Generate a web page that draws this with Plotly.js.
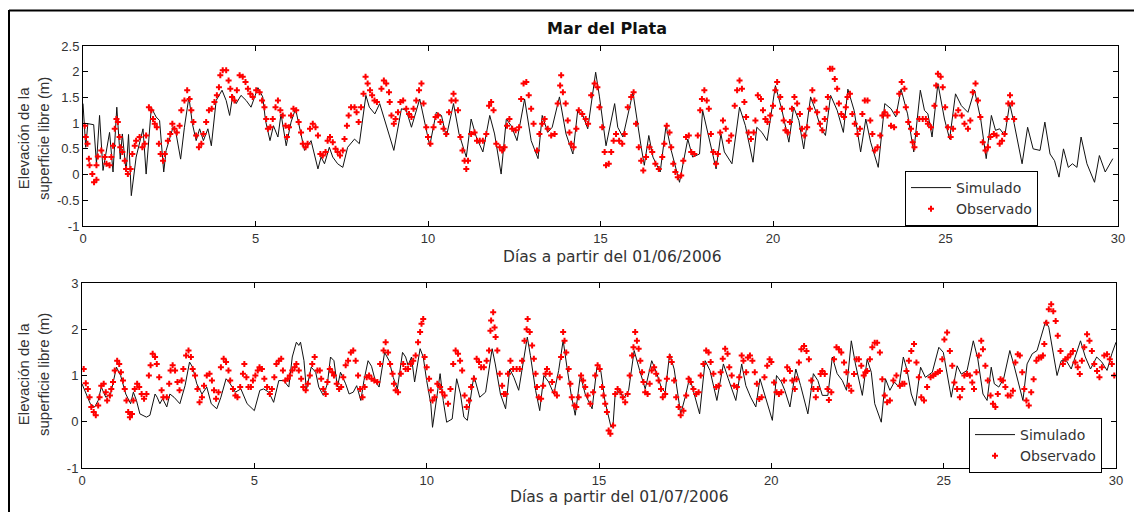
<!DOCTYPE html>
<html>
<head>
<meta charset="utf-8">
<script src="https://cdn.plot.ly/plotly-3.0.1.min.js"></script>
<style>html,body{margin:0;padding:0;background:#fff;}#chart{width:1134px;height:512px;}</style>
</head>
<body>
<div id="chart"></div>
<script>
// ---------- Panel 1: June 2006 ----------
const simDays1 = [0,0.08,0.14,0.31,0.39,0.48,0.58,0.77,0.87,0.98,1.08,1.14,1.25,1.32,1.40,1.54,1.74,1.83,1.98,2.12,2.22,2.34,2.41,2.61,2.70,2.83,2.94,3.07,3.17,3.28,3.38,3.49,3.62,3.72,3.86,4.03,4.15,4.25,4.34,4.44,4.58,4.73,4.87,5.07,5.21,5.29,5.42,5.52,5.65,5.74,5.89,6.03,6.16,6.27,6.42,6.61,6.81,6.90,7.00,7.14,7.24,7.38,7.53,7.67,7.87,8.01,8.20,8.30,8.46,8.60,8.75,9.01,9.23,9.37,9.52,9.76,10.05,10.24,10.39,10.53,10.74,10.90,11.11,11.25,11.40,11.59,11.79,11.93,12.12,12.27,12.41,12.58,12.80,12.99,13.19,13.31,13.47,13.60,13.81,14.00,14.20,14.34,14.49,14.63,14.86,14.97,15.16,15.41,15.50,15.65,15.94,16.03,16.18,16.27,16.40,16.52,16.73,16.90,17.05,17.29,17.53,17.67,17.87,17.96,18.11,18.35,18.49,18.59,18.81,19.03,19.20,19.42,19.53,19.68,19.83,20.07,20.26,20.46,20.60,20.75,20.89,21.09,21.23,21.38,21.52,21.67,21.86,22.04,22.17,22.35,22.54,22.69,22.83,23.05,23.24,23.42,23.56,23.71,23.90,24.08,24.27,24.39,24.49,24.61,24.78,24.97,25.12,25.29,25.46,25.65,25.84,26.02,26.18,26.33,26.45,26.57,26.72,26.86,26.99,27.22,27.38,27.54,27.74,27.88,28.03,28.16,28.29,28.42,28.56,28.68,28.81,28.93,29.10,29.32,29.46,29.63,29.85];
const simVals1 = [1.38,0.53,0.99,0.97,0.21,1.15,0.08,0.82,0.05,1.31,0.30,0.79,0.05,0.78,-0.41,0.34,0.89,0.01,1.30,1.12,1.05,0.05,0.47,0.92,0.79,0.30,0.92,1.51,0.99,0.66,0.89,0.66,0.89,0.56,1.44,1.64,1.44,1.15,1.54,1.38,1.54,1.44,1.31,1.69,1.51,1.05,0.66,0.95,0.73,1.18,0.56,1.02,1.28,0.92,0.47,0.66,0.11,0.34,0.21,0.53,0.34,0.21,0.14,0.53,0.69,0.60,1.54,1.31,1.18,1.38,1.05,0.47,1.28,1.25,0.92,1.47,0.56,1.21,1.15,0.73,1.38,0.79,0.34,1.08,0.73,0.44,1.15,0.79,0.01,1.08,0.95,0.66,1.47,0.66,0.31,1.15,0.82,0.92,1.51,0.79,0.40,1.25,1.15,0.89,1.99,1.51,0.56,1.38,0.92,0.73,1.60,1.18,0.53,0.18,0.76,0.34,0.05,0.95,0.47,-0.15,0.69,0.34,0.40,1.25,0.79,0.11,0.79,0.44,0.21,1.31,0.95,0.24,0.92,0.82,0.66,1.73,1.25,0.63,1.31,1.05,0.50,1.51,1.25,0.92,0.76,1.54,1.25,0.82,1.66,1.25,0.44,1.08,0.63,0.14,1.38,1.28,1.12,1.66,1.18,0.44,1.64,1.25,1.18,0.73,1.77,1.08,0.69,1.57,1.34,1.21,1.64,1.08,0.31,1.15,0.86,0.89,0.76,1.38,0.99,0.21,0.92,0.50,0.47,1.02,0.40,0.27,-0.05,0.50,0.14,0.21,0.14,0.73,0.21,-0.15,0.37,0.05,0.31];

const obsDays1 = [0.05,0.08,0.13,0.17,0.19,0.27,0.32,0.39,0.39,0.43,0.53,0.63,0.68,0.77,0.82,0.87,0.92,0.97,1.01,1.06,1.08,1.14,1.21,1.25,1.30,1.38,1.43,1.50,1.54,1.64,1.72,1.79,1.83,1.91,1.98,2.03,2.08,2.14,2.20,2.25,2.32,2.37,2.46,2.53,2.59,2.65,2.72,2.80,2.85,2.94,3.02,3.09,3.14,3.20,3.28,3.36,3.43,3.49,3.57,3.65,3.73,3.81,3.88,3.94,3.98,4.05,4.15,4.22,4.27,4.32,4.39,4.46,4.54,4.63,4.71,4.78,4.85,4.92,5.02,5.12,5.19,5.26,5.31,5.36,5.43,5.50,5.58,5.65,5.72,5.79,5.87,5.91,5.97,6.03,6.10,6.18,6.25,6.32,6.37,6.45,6.51,6.58,6.66,6.74,6.81,6.88,6.95,7.03,7.09,7.16,7.24,7.32,7.38,7.45,7.53,7.58,7.65,7.70,7.77,7.87,7.93,7.99,8.06,8.13,8.19,8.25,8.32,8.38,8.45,8.52,8.65,8.72,8.79,8.87,8.89,8.94,9.01,9.06,9.13,9.20,9.28,9.37,9.45,9.52,9.58,9.66,9.74,9.81,9.87,9.95,10.00,10.07,10.16,10.22,10.29,10.36,10.45,10.53,10.61,10.68,10.74,10.80,10.87,10.94,11.00,11.06,11.11,11.16,11.25,11.35,11.42,11.50,11.59,11.69,11.77,11.83,11.90,11.98,12.08,12.15,12.22,12.29,12.36,12.44,12.54,12.64,12.70,12.77,12.85,12.92,12.99,13.06,13.16,13.23,13.31,13.38,13.47,13.57,13.67,13.76,13.83,13.86,13.91,13.99,14.05,14.10,14.15,14.22,14.30,14.37,14.47,14.57,14.64,14.73,14.83,14.91,14.97,15.05,15.12,15.16,15.24,15.31,15.38,15.45,15.54,15.63,15.70,15.79,15.89,15.96,16.03,16.11,16.18,16.24,16.32,16.42,16.50,16.59,16.69,16.79,16.85,16.92,17.00,17.05,17.11,17.17,17.24,17.34,17.40,17.48,17.56,17.63,17.72,17.82,17.89,17.94,18.01,18.08,18.14,18.20,18.27,18.35,18.40,18.47,18.55,18.63,18.72,18.79,18.89,18.96,19.03,19.10,19.17,19.22,19.29,19.36,19.44,19.49,19.56,19.65,19.71,19.78,19.84,19.92,20.00,20.07,20.12,20.21,20.26,20.31,20.36,20.43,20.49,20.55,20.62,20.70,20.78,20.84,20.91,20.99,21.07,21.14,21.20,21.28,21.36,21.43,21.50,21.55,21.59,21.65,21.72,21.79,21.86,21.91,21.98,22.06,22.11,22.16,22.23,22.30,22.37,22.45,22.52,22.59,22.66,22.74,22.82,22.88,22.95,23.03,23.11,23.17,23.24,23.32,23.42,23.51,23.59,23.66,23.73,23.81,23.85,23.92,24.00,24.05,24.10,24.17,24.24,24.34,24.43,24.49,24.58,24.68,24.73,24.78,24.86,24.92,24.99,25.07,25.15,25.22,25.29,25.37,25.47,25.55,25.65,25.72,25.79,25.87,25.94,26.01,26.08,26.16,26.23,26.30,26.40,26.48,26.57,26.64,26.71,26.77,26.82,26.87,26.93,26.99];
const obsVals1 = [0.95,0.73,0.60,0.31,0.18,0.01,-0.15,-0.10,0.18,0.35,0.47,0.34,0.21,0.18,0.34,0.56,0.89,1.08,1.02,0.73,0.53,0.44,0.27,0.11,0.01,0.11,0.40,0.56,0.66,0.73,0.53,0.60,0.76,1.31,1.25,1.08,0.99,0.92,0.60,0.40,0.27,0.40,0.66,0.79,0.99,0.89,0.82,0.95,1.25,1.44,1.64,1.47,1.25,1.02,0.76,0.53,0.60,0.79,1.02,1.25,1.28,1.41,1.54,1.70,1.93,2.03,2.03,1.83,1.67,1.51,1.44,1.64,1.93,1.90,1.80,1.67,1.57,1.51,1.64,1.60,1.44,1.31,1.08,0.89,0.92,1.08,1.31,1.44,1.25,1.15,0.95,0.73,0.92,1.15,1.28,1.25,1.02,0.82,0.60,0.53,0.60,0.89,0.99,0.92,0.76,0.40,0.37,0.44,0.66,0.73,0.63,0.50,0.44,0.37,0.47,0.69,0.95,1.15,1.31,1.31,1.21,1.02,1.31,1.57,1.90,1.77,1.64,1.54,1.44,1.41,1.67,1.83,1.77,1.60,1.41,1.15,0.99,1.08,1.21,1.41,1.44,1.28,1.18,1.12,1.28,1.44,1.64,1.77,1.38,0.92,0.73,0.60,0.92,1.12,1.15,1.02,0.89,0.79,1.21,1.44,1.57,1.44,1.25,0.73,0.47,0.27,0.11,0.27,0.79,0.82,0.66,0.66,0.66,0.79,1.34,1.41,1.25,0.60,0.53,0.47,0.53,0.95,1.08,0.89,0.86,0.92,1.47,1.77,1.80,1.54,1.28,0.99,0.47,0.79,0.99,1.08,0.89,0.76,0.79,1.38,1.73,1.93,1.60,1.38,1.05,0.82,0.60,0.53,0.89,1.25,1.18,1.08,0.99,1.54,1.77,1.70,1.31,0.92,0.44,0.18,0.21,0.44,0.66,0.79,0.66,0.60,0.79,1.31,1.51,1.60,0.99,0.53,0.27,0.08,0.34,0.53,0.44,0.21,0.11,0.34,0.60,0.95,0.82,0.53,0.21,0.05,-0.05,-0.02,0.27,0.73,0.76,0.44,0.40,0.76,1.25,1.47,1.64,1.44,1.28,0.79,0.44,0.21,0.40,0.82,1.05,0.89,0.66,0.76,1.34,1.64,1.83,1.67,1.41,1.12,0.82,0.69,0.82,1.05,1.54,1.47,1.25,1.08,1.02,1.15,1.34,1.64,1.80,1.51,1.28,1.05,0.86,0.82,1.02,1.28,1.51,1.38,1.18,0.89,0.76,0.92,1.28,1.64,1.44,1.21,0.99,0.86,1.08,1.28,1.51,2.06,2.06,1.86,1.67,1.38,1.18,1.12,1.31,1.51,1.57,1.18,0.99,0.79,0.89,1.18,1.44,1.44,1.05,0.79,0.47,0.53,0.76,1.15,1.21,1.15,0.95,0.92,1.21,1.57,1.80,1.67,1.31,1.02,0.89,0.63,0.53,0.79,1.08,1.08,1.08,0.99,0.92,1.34,1.73,1.96,1.90,1.70,1.31,0.92,0.73,0.89,1.15,1.25,1.15,0.99,0.89,1.05,1.60,1.77,1.44,1.12,0.63,0.47,0.53,0.73,0.79,0.76,0.60,0.66,0.79,1.08,1.38,1.54,1.38,1.08];

// ---------- Panel 2: July 2006 ----------
const simDays2 = [0.00,0.15,0.24,0.37,0.47,0.56,0.69,0.83,1.00,1.12,1.27,1.41,1.49,1.58,1.68,1.87,1.97,2.12,2.18,2.26,2.34,2.46,2.55,2.67,2.84,2.99,3.12,3.21,3.33,3.48,3.62,3.75,3.91,4.03,4.18,4.30,4.45,4.61,4.79,5.00,5.16,5.27,5.42,5.56,5.71,5.85,6.00,6.10,6.22,6.29,6.34,6.44,6.51,6.65,6.78,6.87,7.00,7.12,7.21,7.31,7.41,7.50,7.65,7.75,7.87,7.97,8.09,8.18,8.30,8.40,8.52,8.62,8.78,8.91,9.03,9.15,9.30,9.39,9.46,9.56,9.65,9.81,9.90,10.00,10.12,10.17,10.26,10.31,10.39,10.48,10.58,10.74,10.87,10.98,11.08,11.18,11.27,11.37,11.54,11.71,11.90,11.99,12.14,12.29,12.41,12.53,12.67,12.92,13.01,13.16,13.28,13.40,13.54,13.69,13.83,13.96,14.07,14.19,14.31,14.46,14.60,14.80,14.94,15.05,15.17,15.28,15.35,15.41,15.47,15.60,15.71,15.86,16.02,16.18,16.34,16.53,16.68,16.82,16.92,17.05,17.18,17.37,17.50,17.63,17.74,17.92,18.08,18.22,18.42,18.61,18.75,18.97,19.14,19.26,19.40,19.55,19.67,19.84,20.03,20.15,20.29,20.39,20.54,20.71,20.85,21.06,21.22,21.35,21.48,21.64,21.77,21.91,22.06,22.18,22.32,22.44,22.64,22.78,22.90,23.00,23.19,23.31,23.44,23.57,23.70,23.83,23.94,24.06,24.18,24.33,24.47,24.67,24.86,24.99,25.11,25.22,25.39,25.51,25.68,25.86,25.99,26.14,26.26,26.38,26.47,26.60,26.74,26.92,27.03,27.18,27.30,27.42,27.57,27.71,27.83,27.96,28.05,28.18,28.29,28.41,28.56,28.70,28.82,28.97,29.11,29.26,29.44,29.59,29.74,29.88,30.00];
const simVals2 = [0.82,0.53,0.39,0.32,0.46,0.75,0.53,0.60,1.18,1.00,0.60,0.39,0.64,0.46,0.17,0.10,0.14,0.60,0.53,0.39,0.50,0.32,0.60,0.53,0.39,0.78,1.29,1.18,0.82,0.60,0.75,0.39,0.28,0.53,0.93,0.82,0.64,0.71,0.39,0.24,0.68,0.71,0.64,0.42,0.89,0.89,0.75,1.40,1.72,1.65,1.72,1.32,0.68,1.18,1.07,0.75,0.57,0.82,1.40,1.32,0.75,1.07,0.82,0.60,0.64,0.78,0.46,0.89,1.32,1.20,0.86,0.75,1.50,1.32,0.96,0.71,1.50,1.40,1.22,1.40,0.86,1.58,1.40,0.89,0.39,-0.12,0.39,0.60,1.04,0.46,-0.01,0.06,0.93,0.60,0.10,0.03,0.46,1.00,0.53,0.64,1.58,1.25,0.60,0.28,1.14,0.96,0.68,1.83,1.43,0.68,0.24,1.00,0.86,0.60,1.11,1.76,1.18,0.60,0.14,1.00,0.60,0.28,1.18,1.11,0.46,0.06,-0.12,-0.04,0.60,0.68,0.50,0.68,1.54,1.11,0.71,1.32,1.04,0.71,0.64,1.47,1.14,0.17,0.53,0.96,0.68,0.17,1.32,1.11,0.46,1.25,0.93,0.46,1.25,0.78,0.53,0.32,0.93,0.53,0.03,1.00,0.86,0.68,0.32,1.14,0.78,0.17,1.04,0.89,0.57,0.57,1.40,1.04,0.89,0.68,1.75,1.25,0.57,1.35,1.07,0.39,-0.01,0.93,0.68,0.86,0.75,1.40,1.11,0.60,0.35,1.18,0.96,1.07,1.61,1.50,0.96,0.53,1.21,1.03,1.11,1.75,1.36,0.60,0.46,1.18,0.82,0.75,0.93,1.54,1.25,0.78,0.46,1.25,1.47,1.54,1.86,2.18,2.04,1.47,1.00,1.32,1.32,1.14,1.40,1.75,1.40,1.14,1.40,1.29,1.11,1.47,1.72];

const obsDays2 = [0.05,0.11,0.17,0.22,0.27,0.34,0.40,0.47,0.51,0.56,0.63,0.69,0.73,0.81,0.85,0.90,0.95,1.02,1.08,1.13,1.19,1.24,1.29,1.34,1.39,1.45,1.49,1.53,1.60,1.66,1.73,1.80,1.87,1.94,1.99,2.05,2.12,2.17,2.24,2.31,2.36,2.46,2.53,2.57,2.63,2.70,2.77,2.83,2.89,2.94,3.02,3.09,3.16,3.21,3.28,3.35,3.41,3.48,3.54,3.62,3.70,3.77,3.83,3.89,3.96,4.03,4.11,4.18,4.25,4.30,4.38,4.45,4.51,4.59,4.67,4.71,4.77,4.83,4.90,4.96,5.03,5.10,5.15,5.22,5.29,5.37,5.45,5.51,5.58,5.64,5.71,5.78,5.83,5.90,5.97,6.03,6.10,6.17,6.22,6.29,6.36,6.42,6.49,6.55,6.61,6.68,6.75,6.83,6.90,6.94,7.00,7.07,7.12,7.19,7.26,7.31,7.39,7.46,7.52,7.58,7.65,7.72,7.80,7.87,7.94,8.01,8.07,8.14,8.20,8.26,8.33,8.40,8.48,8.57,8.65,8.75,8.81,8.88,8.94,9.01,9.05,9.10,9.17,9.25,9.32,9.39,9.46,9.54,9.61,9.68,9.75,9.81,9.85,9.90,9.94,10.00,10.07,10.12,10.17,10.23,10.31,10.39,10.45,10.52,10.62,10.69,10.77,10.84,10.91,10.97,11.03,11.10,11.16,11.23,11.29,11.37,11.45,11.52,11.58,11.66,11.74,11.81,11.85,11.87,11.93,11.97,12.00,12.05,12.12,12.19,12.24,12.29,12.36,12.43,12.51,12.61,12.70,12.77,12.84,12.90,12.93,12.99,13.06,13.11,13.16,13.20,13.25,13.32,13.38,13.45,13.49,13.57,13.64,13.71,13.78,13.86,13.90,13.96,14.00,14.05,14.12,14.17,14.21,14.29,14.34,14.41,14.48,14.54,14.60,14.67,14.75,14.83,14.89,14.96,15.02,15.09,15.13,15.18,15.23,15.28,15.33,15.41,15.47,15.54,15.62,15.69,15.76,15.83,15.89,15.96,16.00,16.05,16.10,16.15,16.20,16.25,16.29,16.34,16.41,16.47,16.53,16.60,16.66,16.73,16.80,16.85,16.92,16.97,17.05,17.11,17.18,17.24,17.31,17.37,17.45,17.53,17.60,17.66,17.74,17.82,17.89,17.95,18.03,18.11,18.18,18.24,18.32,18.40,18.47,18.53,18.59,18.66,18.73,18.78,18.85,18.92,19.00,19.07,19.14,19.19,19.27,19.32,19.38,19.45,19.52,19.58,19.65,19.72,19.80,19.88,19.95,20.00,20.08,20.15,20.22,20.29,20.37,20.46,20.54,20.61,20.68,20.73,20.80,20.87,20.95,21.02,21.09,21.16,21.22,21.29,21.35,21.43,21.48,21.55,21.63,21.67,21.74,21.82,21.89,21.96,22.03,22.11,22.18,22.25,22.32,22.40,22.47,22.54,22.61,22.68,22.73,22.78,22.86,22.93,23.00,23.07,23.15,23.22,23.29,23.36,23.44,23.54,23.63,23.73,23.80,23.86,23.92,23.99,24.06,24.14,24.21,24.28,24.35,24.43,24.52,24.62,24.70,24.76,24.83,24.89,24.96,25.02,25.10,25.18,25.25,25.31,25.39,25.47,25.54,25.60,25.68,25.76,25.83,25.88,25.95,26.02,26.09,26.14,26.21,26.28,26.36,26.43,26.50,26.57,26.65,26.72,26.79,26.86,26.94,27.01,27.08,27.15,27.21,27.28,27.34,27.40,27.47,27.54,27.61,27.69,27.76,27.83,27.88,27.92,27.98,28.05,28.12,28.18,28.25,28.31,28.39,28.46,28.53,28.60,28.68,28.75,28.82,28.89,28.95,29.01,29.08,29.16,29.23,29.30,29.37,29.45,29.52,29.59,29.66,29.74,29.82,29.88,29.95];
const obsVals2 = [1.14,0.83,0.71,0.53,0.32,0.21,0.14,0.35,0.53,0.78,0.82,0.64,0.46,0.57,0.71,0.86,1.11,1.32,1.25,1.07,0.89,0.71,0.46,0.21,0.10,0.17,0.46,0.71,0.82,0.75,0.60,0.50,0.60,1.00,1.22,1.47,1.40,1.25,0.96,0.68,0.53,0.53,0.82,1.11,1.22,1.11,0.86,0.68,0.89,1.14,1.43,1.54,1.40,1.14,1.00,0.71,0.42,0.53,0.78,1.00,1.04,0.89,0.68,0.50,0.64,1.18,1.36,1.29,1.11,0.89,0.71,0.57,0.53,0.75,1.04,1.25,0.96,0.75,0.75,0.89,1.00,1.11,1.18,1.14,0.93,0.75,0.60,0.71,0.96,1.25,1.32,1.36,1.11,0.89,0.93,1.00,1.11,1.18,1.25,1.11,0.93,0.75,0.68,0.82,1.00,1.25,1.40,1.11,1.11,0.93,0.71,0.60,0.86,1.14,1.07,1.00,0.82,0.71,0.75,0.96,1.22,1.32,1.50,1.54,1.32,1.00,0.71,0.53,0.75,0.96,1.00,0.93,0.89,0.86,1.25,1.54,1.72,1.50,1.25,1.04,0.82,0.68,0.64,1.04,1.25,1.14,1.14,1.25,1.32,1.43,1.72,1.94,2.12,2.22,1.40,1.18,0.93,0.68,0.46,0.53,0.82,0.75,0.64,0.57,0.39,0.71,1.25,1.54,1.47,1.32,1.11,0.57,0.32,0.46,0.75,0.93,1.36,1.29,1.18,1.18,1.32,1.54,1.97,2.19,2.37,2.04,1.83,1.54,1.04,0.78,0.60,0.60,1.04,1.32,1.14,1.14,1.14,1.32,1.75,2.00,2.22,1.94,1.65,1.36,1.04,0.75,0.53,0.50,0.78,1.04,1.14,1.04,0.86,0.64,0.57,0.96,1.40,1.94,1.75,1.50,1.14,0.82,0.53,0.35,0.32,0.53,1.00,0.89,0.75,0.57,0.39,0.64,1.00,1.22,1.14,0.75,0.57,0.39,0.21,-0.19,-0.26,-0.08,0.60,0.71,0.64,0.53,0.42,0.60,1.00,1.43,1.61,1.94,1.75,1.58,1.32,1.07,0.86,0.64,0.60,0.82,1.11,1.18,1.04,0.89,0.71,0.53,0.60,0.93,1.40,1.29,0.89,0.53,0.32,0.14,0.24,0.57,0.93,0.86,0.71,0.60,0.64,1.00,1.25,1.54,1.50,1.29,1.04,0.75,0.78,1.07,1.36,1.58,1.47,1.18,1.00,0.78,0.75,0.96,1.43,1.32,1.07,1.39,1.43,1.32,1.07,0.82,0.49,0.53,0.96,1.21,1.35,1.29,0.85,0.64,0.60,0.64,0.89,1.18,1.10,0.89,0.71,0.92,1.28,1.57,1.64,1.53,1.35,0.89,0.71,0.53,0.71,1.03,1.10,1.03,0.71,0.47,0.64,1.35,1.61,1.57,1.50,1.28,1.07,0.78,0.67,1.03,1.35,1.35,1.21,1.00,1.07,1.10,1.35,1.61,1.71,1.71,1.50,0.92,0.57,0.42,0.46,0.89,1.00,0.78,0.82,0.82,1.10,1.32,1.53,1.68,1.28,0.96,0.53,0.46,0.75,0.96,1.00,1.03,1.07,1.10,1.35,1.78,1.93,1.53,1.21,0.85,0.71,0.53,0.71,1.00,1.03,1.00,0.85,0.71,1.07,1.43,1.75,1.57,1.21,0.89,0.57,0.39,0.32,0.60,0.92,0.89,0.75,0.57,0.57,0.67,1.28,1.46,1.43,1.07,0.71,0.46,0.35,0.64,0.92,1.32,1.39,1.39,1.43,1.68,2.14,2.43,2.54,2.39,2.18,1.86,1.53,1.25,1.35,1.39,1.46,1.53,1.28,1.18,1.03,1.32,1.61,1.89,1.75,1.53,1.25,1.10,0.96,1.18,1.43,1.46,1.35,1.25,1.00,1.14,1.46,1.75];

// ---------- Axis tick labels ----------
const xTickVals = [0,5,10,15,20,25,30];
const xTickText = ['0','5','10','15','20','25','30'];
const yTickVals1 = [-1,-0.5,0,0.5,1,1.5,2,2.5];
const yTickText1 = ['-1','-0.5','0','0.5','1','1.5','2','2.5'];
const yTickVals2 = [-1,0,1,2,3];
const yTickText2 = ['-1','0','1','2','3'];

const titleText = 'Mar del Plata';
const xTitle1 = 'Días a partir del 01/06/2006';
const xTitle2 = 'Días a partir del 01/07/2006';
const yTitle = 'Elevación de la<br>superficie libre (m)';
const simName = 'Simulado';
const obsName = 'Observado';

const W = 1134, H = 512;
const px = v => v / W;
const py = v => 1 - v / H;

const lineStyle = {color: '#111', width: 1};
const markerStyle = {symbol: 'cross', size: 5, color: '#ff0000', line: {width: 0}};

const traces = [
  {x: simDays1, y: simVals1, type: 'scatter', mode: 'lines', name: simName, line: lineStyle, xaxis: 'x', yaxis: 'y', legend: 'legend'},
  {x: obsDays1, y: obsVals1, type: 'scatter', mode: 'markers', name: obsName, marker: markerStyle, xaxis: 'x', yaxis: 'y', legend: 'legend'},
  {x: simDays2, y: simVals2, type: 'scatter', mode: 'lines', name: simName, line: lineStyle, xaxis: 'x2', yaxis: 'y2', legend: 'legend2'},
  {x: obsDays2, y: obsVals2, type: 'scatter', mode: 'markers', name: obsName, marker: markerStyle, xaxis: 'x2', yaxis: 'y2', legend: 'legend2'}
];

const tickFont = {family: 'Liberation Sans, Arial, sans-serif', size: 13, color: '#333'};
const axisCommon = {
  showline: true, linecolor: '#000', linewidth: 1, mirror: 'ticks',
  ticks: 'inside', ticklen: 5, tickcolor: '#000', tickwidth: 1,
  showgrid: false, zeroline: false, tickfont: tickFont, tickmode: 'array'
};

const legendCommon = {
  bgcolor: '#fff', bordercolor: '#000', borderwidth: 1,
  font: {family: 'DejaVu Sans, Verdana, sans-serif', size: 14, color: '#333'},
  xanchor: 'left', yanchor: 'top', itemwidth: 40, tracegroupgap: 0, traceorder: 'normal'
};

const layout = {
  width: W, height: H,
  margin: {l: 0, r: 0, t: 0, b: 0},
  paper_bgcolor: '#fff', plot_bgcolor: '#fff',
  showlegend: true,
  xaxis: Object.assign({}, axisCommon, {domain: [px(83), px(1118)], range: [0, 30], tickvals: xTickVals, ticktext: xTickText, anchor: 'y'}),
  yaxis: Object.assign({}, axisCommon, {domain: [py(226), py(46)], range: [-1, 2.5], tickvals: yTickVals1, ticktext: yTickText1, anchor: 'x'}),
  xaxis2: Object.assign({}, axisCommon, {domain: [px(82), px(1116)], range: [0, 30], tickvals: xTickVals, ticktext: xTickText, anchor: 'y2'}),
  yaxis2: Object.assign({}, axisCommon, {domain: [py(468), py(283)], range: [-1, 3], tickvals: yTickVals2, ticktext: yTickText2, anchor: 'x2'}),
  legend: Object.assign({}, legendCommon, {x: px(905), y: py(171)}),
  legend2: Object.assign({}, legendCommon, {x: px(969), y: py(418)}),
  annotations: [
    {text: '<b>' + titleText + '</b>', xref: 'paper', yref: 'paper', x: px(607), y: py(28), xanchor: 'center', yanchor: 'middle', showarrow: false, font: {family: 'DejaVu Sans, Verdana, sans-serif', size: 16, color: '#111'}},
    {text: xTitle1, xref: 'paper', yref: 'paper', x: px(612), y: py(257), xanchor: 'center', yanchor: 'middle', showarrow: false, font: {family: 'DejaVu Sans, Verdana, sans-serif', size: 15.5, color: '#333'}},
    {text: xTitle2, xref: 'paper', yref: 'paper', x: px(619), y: py(497), xanchor: 'center', yanchor: 'middle', showarrow: false, font: {family: 'DejaVu Sans, Verdana, sans-serif', size: 15.5, color: '#333'}},
    {text: yTitle, xref: 'paper', yref: 'paper', x: px(33), y: py(139), xanchor: 'center', yanchor: 'middle', textangle: -90, showarrow: false, font: {family: 'Liberation Sans, Arial, sans-serif', size: 15, color: '#333'}},
    {text: yTitle, xref: 'paper', yref: 'paper', x: px(33), y: py(375), xanchor: 'center', yanchor: 'middle', textangle: -90, showarrow: false, font: {family: 'Liberation Sans, Arial, sans-serif', size: 15, color: '#333'}}
  ],
  shapes: [
    {type: 'line', xref: 'paper', yref: 'paper', x0: px(9), x1: px(9), y0: py(10), y1: py(512), line: {color: '#000', width: 2}},
    {type: 'line', xref: 'paper', yref: 'paper', x0: px(9), x1: px(1134), y0: py(10.5), y1: py(10.5), line: {color: '#000', width: 2}}
  ]
};

Plotly.newPlot('chart', traces, layout, {staticPlot: true, displayModeBar: false});
</script>
</body>
</html>
